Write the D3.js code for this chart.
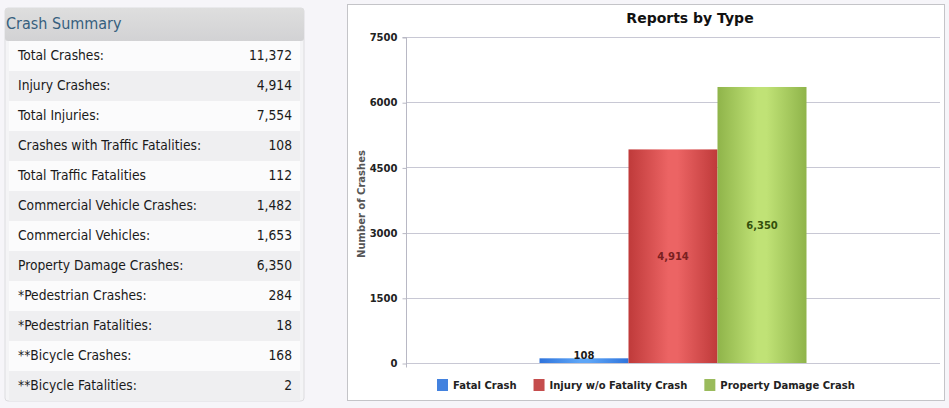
<!DOCTYPE html>
<html>
<head>
<meta charset="utf-8">
<script src="https://cdn.jsdelivr.net/npm/d3@7"></script>
<style>
html,body{margin:0;padding:0;background:#f6f5f9;}
svg{display:block;}
</style>
</head>
<body>
<svg id="c" width="949" height="408"></svg>
<script>
// ---- data ----
const summaryLabels = ["Total Crashes:", "Injury Crashes:", "Total Injuries:", "Crashes with Traffic Fatalities:",
  "Total Traffic Fatalities", "Commercial Vehicle Crashes:", "Commercial Vehicles:", "Property Damage Crashes:",
  "*Pedestrian Crashes:", "*Pedestrian Fatalities:", "**Bicycle Crashes:", "**Bicycle Fatalities:"];
const summaryValues = [11372, 4914, 7554, 108, 112, 1482, 1653, 6350, 284, 18, 168, 2];
const categories = ["Reports"];
const seriesNames = ["Fatal Crash", "Injury w/o Fatality Crash", "Property Damage Crash"];
const seriesValues = [108, 4914, 6350];
const yTicks = [0, 1500, 3000, 4500, 6000, 7500];

const svg = d3.select("#c");
const defs = svg.append("defs");
const fmt = d3.format(",");

// ---- left summary panel ----
const px0 = 5, px1 = 304, headTop = 8, headH = 33, rowH = 30;
const hg = defs.append("linearGradient").attr("id","hg").attr("x1",0).attr("y1",0).attr("x2",0).attr("y2",1);
hg.append("stop").attr("offset",0).attr("stop-color","#dedede");
hg.append("stop").attr("offset",1).attr("stop-color","#d2d2d4");
const panel = svg.append("g");
panel.append("rect").attr("x",px0).attr("y",headTop).attr("width",px1-px0).attr("height",headH + rowH*summaryLabels.length)
  .attr("fill","#f4f4f6").attr("stroke","#dcdcdf").attr("rx",3);
panel.append("rect").attr("x",px0).attr("y",headTop).attr("width",px1-px0).attr("height",headH).attr("fill","url(#hg)").attr("rx",3);
panel.append("text").attr("x",6).attr("y",headTop+21).text("Crash Summary")
  .attr("font-family","DejaVu Sans Condensed, DejaVu Sans").attr("font-size",16).attr("fill","#365f7e");
const rows = panel.selectAll("g.row").data(summaryLabels).join("g").attr("class","row")
  .attr("transform",(d,i)=>`translate(0,${headTop+headH+i*rowH})`);
rows.append("rect").attr("x",px0+4).attr("y",0).attr("width",px1-px0-8).attr("height",rowH)
  .attr("fill",(d,i)=> i%2===0 ? "#fbfbfc" : "#efeff1");
rows.append("text").attr("x",18).attr("y",19).text(d=>d)
  .attr("font-family","DejaVu Sans Condensed, DejaVu Sans").attr("font-size",13.7).attr("fill","#1a1a1a");
rows.append("text").attr("x",292).attr("y",19).attr("text-anchor","end").text((d,i)=>fmt(summaryValues[i]))
  .attr("font-family","DejaVu Sans Condensed, DejaVu Sans").attr("font-size",13.7).attr("fill","#1a1a1a");

// ---- chart panel ----
svg.append("rect").attr("x",347.5).attr("y",4.5).attr("width",597).attr("height",396)
  .attr("fill","#ffffff").attr("stroke","#c4c4c8");
svg.append("text").attr("x",690).attr("y",23).attr("text-anchor","middle").text("Reports by Type")
  .attr("font-family","DejaVu Sans").attr("font-weight","bold").attr("font-size",14).attr("fill","#111");

const plotL = 406, plotR = 940, plotT = 37, plotB = 363;
const y = d3.scaleLinear().domain([0,7500]).range([plotB, plotT]);
const x0 = d3.scaleBand().domain(categories).range([plotL, plotR]).paddingOuter(0.5).paddingInner(0);
const x1 = d3.scaleBand().domain(seriesNames).range([0, x0.bandwidth()]).padding(0);

// gridlines
svg.append("g").selectAll("line").data(yTicks).join("line")
  .attr("x1",plotL).attr("x2",plotR).attr("y1",d=>Math.round(y(d))+0.5).attr("y2",d=>Math.round(y(d))+0.5)
  .attr("stroke","#c8c8d4").attr("stroke-width",1);

// y axis
const yAxis = d3.axisLeft(y).tickValues(yTicks).tickSize(4).tickPadding(5).tickFormat(d3.format("d"));
const ag = svg.append("g").attr("transform",`translate(${plotL+0.5},0.5)`).call(yAxis);
ag.select(".domain").attr("stroke","#b8b8c4").attr("d",`M-4,${plotT}H0V${plotB+4}`);
ag.selectAll(".tick line").attr("stroke","#b8b8c4");
ag.selectAll(".tick text").attr("font-family","DejaVu Sans").attr("font-weight","bold").attr("font-size",10).attr("fill","#222");
svg.append("text").attr("transform",`translate(365,${(plotT+plotB)/2+4}) rotate(-90)`).attr("text-anchor","middle")
  .text("Number of Crashes").attr("font-family","DejaVu Sans").attr("font-weight","bold").attr("font-size",10).attr("fill","#555");

// bar gradients
const palette = [["#2f74dc","#5ea6f7"],["#bf3a3a","#ec6464"],["#8fb44a","#c0e276"]];
palette.forEach((c,i)=>{
  const g = defs.append("linearGradient").attr("id","bg"+i).attr("x1",0).attr("y1",0).attr("x2",1).attr("y2",0);
  g.append("stop").attr("offset",0).attr("stop-color",c[0]);
  g.append("stop").attr("offset",0.45).attr("stop-color",c[1]);
  g.append("stop").attr("offset",0.55).attr("stop-color",c[1]);
  g.append("stop").attr("offset",1).attr("stop-color",c[0]);
});

const bars = svg.append("g").attr("transform",`translate(${x0(categories[0])},0)`);
bars.selectAll("rect").data(seriesValues).join("rect")
  .attr("x",(d,i)=>x1(seriesNames[i])).attr("width",x1.bandwidth())
  .attr("y",d=>y(d)).attr("height",d=>plotB-y(d)).attr("fill",(d,i)=>`url(#bg${i})`);

const labelColors = ["#1a1a1a","#7a2020","#34500c"];
bars.selectAll("text").data(seriesValues).join("text")
  .attr("x",(d,i)=>x1(seriesNames[i])+x1.bandwidth()/2)
  .attr("y",d=> (plotB-y(d)) < 40 ? y(d)+1 : (y(d)+plotB)/2+4)
  .attr("text-anchor","middle").text(d=>fmt(d))
  .attr("font-family","DejaVu Sans").attr("font-weight","bold").attr("font-size",10)
  .attr("fill",(d,i)=>labelColors[i]);

// legend
const leg = svg.append("g").attr("transform","translate(437,379)");
let lx = 0;
seriesNames.forEach((s,i)=>{
  const it = leg.append("g").attr("transform",`translate(${lx},0)`);
  it.append("rect").attr("width",11).attr("height",12).attr("fill",palette[i][0]).attr("opacity",0.9);
  const t = it.append("text").attr("x",16).attr("y",10).text(s)
    .attr("font-family","DejaVu Sans").attr("font-weight","bold").attr("font-size",10).attr("fill","#222");
  lx += 16 + t.node().getComputedTextLength() + 17;
});
</script>
</body>
</html>
